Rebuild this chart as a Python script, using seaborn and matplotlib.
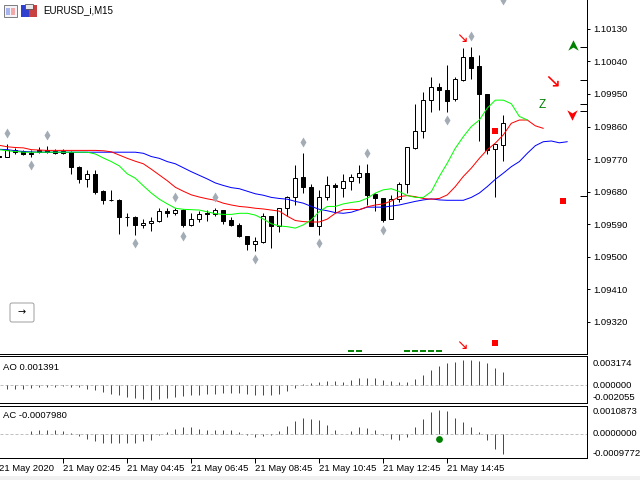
import numpy as np
import matplotlib
matplotlib.use("Agg")
import matplotlib.pyplot as plt
from matplotlib.patches import Rectangle, FancyBboxPatch
from matplotlib.path import Path
import seaborn as sns

# prices in points (1e-5), first candle is bar -1 (cut by the left edge)
candle_open = [109779, 109775, 109795, 109791, 109788, 109794, 109794, 109793, 109787, 109789,
               109749, 109715, 109728, 109682, 109657, 109657, 109610, 109610, 109587, 109593,
               109600, 109627, 109622, 109630, 109587, 109604, 109622, 109619, 109629, 109601,
               109587, 109557, 109535, 109542, 109612, 109584, 109634, 109666, 109720, 109692,
               109584, 109666, 109697, 109691, 109709, 109720, 109731, 109673, 109663, 109604,
               109659, 109702, 109802, 109847, 109933, 109969, 109961, 109936, 109990, 110052,
               110027, 109950, 109797, 109810]
candle_high = [109785, 109811, 109800, 109796, 109796, 109804, 109807, 109798, 109798, 109791,
               109751, 109740, 109740, 109685, 109685, 109659, 109621, 109612, 109604, 109611,
               109634, 109634, 109634, 109632, 109621, 109625, 109628, 109634, 109630, 109610,
               109593, 109558, 109555, 109622, 109613, 109634, 109669, 109754, 109787, 109702,
               109685, 109724, 109703, 109729, 109729, 109754, 109757, 109676, 109663, 109671,
               109707, 109803, 109923, 109956, 109997, 109981, 110031, 109998, 110078, 110079,
               110058, 109950, 109811, 109892]
candle_low = [109775, 109775, 109784, 109782, 109777, 109787, 109788, 109785, 109784, 109728,
              109705, 109693, 109674, 109646, 109654, 109563, 109586, 109561, 109580, 109572,
              109597, 109611, 109616, 109581, 109586, 109597, 109600, 109613, 109591, 109586,
              109555, 109519, 109516, 109539, 109525, 109569, 109612, 109642, 109676, 109584,
              109560, 109657, 109620, 109665, 109685, 109703, 109643, 109625, 109596, 109604,
              109650, 109676, 109799, 109827, 109901, 109906, 109901, 109931, 109987, 109992,
              109820, 109784, 109666, 109765]
candle_close = [109775, 109796, 109789, 109783, 109783, 109789, 109790, 109787, 109791, 109747,
                109714, 109728, 109680, 109656, 109656, 109609, 109609, 109587, 109593, 109600,
                109626, 109622, 109629, 109587, 109604, 109617, 109618, 109628, 109600, 109587,
                109556, 109534, 109543, 109612, 109584, 109634, 109665, 109717, 109694, 109584,
                109666, 109698, 109693, 109709, 109720, 109731, 109672, 109661, 109602, 109659,
                109702, 109803, 109847, 109933, 109969, 109960, 109932, 109991, 110052, 110023,
                109949, 109796, 109811, 109869]

ma_blue = [109797, 109796, 109793, 109791, 109790, 109789, 109789, 109789, 109789, 109789, 109789,
           109789, 109789, 109789, 109789, 109789, 109789, 109789, 109786, 109777, 109772, 109763,
           109757, 109746, 109735, 109725, 109715, 109704, 109697, 109691, 109688, 109681, 109674,
           109670, 109664, 109661, 109659, 109653, 109648, 109639, 109631, 109627, 109622, 109620,
           109623, 109630, 109637, 109637, 109637, 109640, 109643, 109648, 109653, 109657, 109660,
           109657, 109656, 109656, 109656, 109664, 109676, 109694, 109714, 109731, 109749, 109763,
           109786, 109807, 109818, 109820, 109815, 109818]
ma_red = [109808, 109804, 109802, 109801, 109796, 109795, 109794, 109794, 109794, 109794, 109794,
          109794, 109794, 109793, 109790, 109781, 109772, 109764, 109757, 109742, 109726, 109710,
          109692, 109681, 109671, 109665, 109660, 109656, 109648, 109643, 109639, 109637, 109634,
          109632, 109629, 109626, 109612, 109600, 109597, 109596, 109596, 109604, 109620, 109630,
          109631, 109630, 109638, 109643, 109646, 109654, 109666, 109669, 109666, 109661, 109659,
          109661, 109671, 109694, 109722, 109745, 109772, 109796, 109814, 109837, 109869, 109878,
          109878, 109862, 109855]
ma_green = [109796, 109793, 109791, 109789, 109789, 109789, 109789, 109789, 109789, 109789, 109789,
            109789, 109784, 109773, 109763, 109751, 109729, 109717, 109696, 109676, 109659, 109646,
            109634, 109631, 109630, 109629, 109624, 109619, 109617, 109617, 109620, 109620, 109615,
            109604, 109591, 109585, 109583, 109579, 109588, 109602, 109625, 109639, 109639, 109646,
            109650, 109653, 109662, 109676, 109685, 109688, 109680, 109669, 109664, 109664, 109680,
            109722, 109759, 109800, 109832, 109860, 109878, 109911, 109933, 109933, 109923, 109888,
            109878]

diamond_bar = [0, 5, 3, 21, 26, 22, 16, 31, 37, 45, 47, 39, 55, 58, 62]
diamond_price = [109842, 109836, 109753, 109665, 109665, 109557, 109538, 109493, 109817, 109786,
                 109573, 109537, 109878, 110111, 110210]
square_bar = [60.92, 69.42, 60.96]
square_price = [109848, 109654, 109262]
arrow_bar = [56.83, 68.08, 56.83]
arrow_price = [110105, 109986, 109256]
arrow_size = [10, 14, 10]
dash_bar = [43, 44, 50, 51, 52, 53, 54]
dash_price = [109238] * 7
object_levels = [110079, 109988, 109922, 109902, 109668]

# AO / AC histograms in 1e-6, bars 0..62
ao_values = [-348, -348, -348, -278, -139, -174, -139, -35, -174, -174, -383, -487, -696, -905, -974,
             -1218, -1322, -1392, -1531, -1427, -1322, -1183, -1114, -1009, -1009, -905, -870, -835,
             -800, -835, -940, -1009, -1009, -974, -940, -626, -313, 139, 278, 383, 452, 487, 348, 557,
             766, 766, 766, 592, 452, 348, 348, 661, 1079, 1601, 2018, 2332, 2436, 2645, 2645, 2540,
             2332, 1810, 1392]
ao_colors = "g" * 7 + "r" * 12 + "g" * 10 + "r" * 4 + "g" * 8 + "r" * 2 + "g" * 3 + "r" * 4 + "g" * 9 + "r" * 4
ac_values = [0, 0, 0, 92, 144, 144, 144, 92, 39, -92, -209, -288, -366, -366, -366, -366, -353, -288,
             -249, -52, 78, 196, 249, 262, 183, 144, 144, 131, 144, 52, -39, -131, -92, -52, 92, 288,
             497, 615, 576, 536, 340, 144, 0, 92, 249, 222, 144, -52, -209, -249, -131, 249, 576, 850,
             929, 889, 615, 458, 262, 52, -249, -602, -798]
ac_colors = "g" * 5 + "r" * 8 + "g" * 10 + "r" * 9 + "g" * 6 + "r" * 5 + "g" * 2 + "r" * 5 + "g" * 5 + "r" * 8

price_ticks = [1.10130, 1.10040, 1.09950, 1.09860, 1.09770, 1.09680, 1.09590, 1.09500, 1.09410, 1.09320]
time_bars = [7, 15, 23, 31, 39, 47, 55]
time_labels = ["21 May 02:45", "21 May 04:45", "21 May 06:45", "21 May 08:45",
               "21 May 10:45", "21 May 12:45", "21 May 14:45"]

sns.set_theme(style="white")
plt.rcParams["font.family"] = ["Liberation Sans", "DejaVu Sans"]
plt.rcParams["axes.edgecolor"] = "black"
plt.rcParams["axes.linewidth"] = 0.72

W, H = 640, 480
GREEN = "#008000"
LW = 0.72
XMIN, XMAX = -0.917, 72.46


def panel(top, bottom):
    a = fig.add_axes([0, 1 - bottom / H, 587 / W, (bottom - top) / H])
    a.set_xlim(XMIN, XMAX)
    a.spines["left"].set_visible(False)
    return a


def px_text(x, y, s, size=6.8, **kw):
    fig.text(x / W, 1 - y / H, s, fontsize=size, va="center", color="black", **kw)


def px_rect(x0, y0, x1, y1, **kw):
    fig.add_artist(Rectangle((x0 / W, 1 - y1 / H), (x1 - x0) / W, (y1 - y0) / H,
                             transform=fig.transFigure, **kw))


def histogram(a, values, colors, ymin, ymax):
    x = np.arange(len(values))
    v = np.array(values) / 1e6
    cols = [GREEN if k == "g" else "#ff0000" for k in colors]
    a.axhline(0, color="#c0c0c0", lw=LW, ls=(0, (3, 2)), zorder=1)
    a.vlines(x, 0, v, colors=cols, lw=LW, zorder=3)
    a.set_xlim(XMIN, XMAX)
    a.set_ylim(ymin, ymax)
    a.set_yticks([])


fig = plt.figure(figsize=(6.4, 4.8), dpi=100, facecolor="white")
ax = panel(0, 354.3)
ax_ao = panel(356, 402.7)
ax_ac = panel(405.5, 458)

# candles
bars = np.arange(-1, len(candle_open) - 1)
o = np.array(candle_open) / 1e5
h = np.array(candle_high) / 1e5
l = np.array(candle_low) / 1e5
c = np.array(candle_close) / 1e5
up = c >= o
ax.vlines(bars, l, h, color="black", lw=LW, zorder=2)
ax.bar(bars[~up], (o - c)[~up], bottom=c[~up], width=0.5, color="black", edgecolor="black", lw=LW, zorder=3)
ax.bar(bars[up], (c - o)[up], bottom=o[up], width=0.5, color="white", edgecolor="black", lw=LW, zorder=3)

# moving averages
for series, col in [(ma_blue, "#0000ff"), (ma_red, "#ff0000"), (ma_green, "#00ff00")]:
    sns.lineplot(x=np.arange(-1, len(series) - 1), y=np.array(series) / 1e5, color=col, linewidth=LW,
                 errorbar=None, ax=ax, zorder=4)

# signal objects
sns.scatterplot(x=diamond_bar, y=np.array(diamond_price) / 1e5, marker="d", s=26, color="#a3acb5",
                linewidth=0, ax=ax, zorder=5)
sns.scatterplot(x=square_bar, y=np.array(square_price) / 1e5, marker="s", s=20, color="#ff0000",
                linewidth=0, ax=ax, zorder=5)
ax.plot(dash_bar, np.array(dash_price) / 1e5, ls="none", marker="_", ms=4.2, mew=1.4, color=GREEN, zorder=5)
for bx, pr, sz in zip(arrow_bar, arrow_price, arrow_size):
    ax.text(bx, pr / 1e5, "\u2198", color="#ff0000", fontsize=sz, family="DejaVu Sans",
            ha="center", va="center", zorder=6)
chevron = Path([(-1, -1), (0, 1), (1, -1), (0, -0.4), (-1, -1)], closed=True)
ax.plot([70.67], [1.10086], marker=chevron, ms=7.5, color=GREEN, mew=0, zorder=6)
flip = Path([(-1, 1), (0, -1), (1, 1), (0, 0.4), (-1, 1)], closed=True)
ax.plot([70.6], [1.09892], marker=flip, ms=7.5, color="#ff0000", mew=0, zorder=6)
ax.text(66.83, 1.09920, "Z", color=GREEN, fontsize=8.5, ha="center", va="center", zorder=6)
ax.hlines(np.array(object_levels) / 1e5, 0.988, 1, color="black", lw=LW, transform=ax.get_yaxis_transform())

ax.set_xlim(XMIN, XMAX)
ax.set_ylim(1.09230, 1.10210)
ax.set_xlabel("")
ax.set_ylabel("")
ax.set_xticks([])
ax.spines["top"].set_visible(False)
ax.yaxis.tick_right()
ax.set_yticks(price_ticks)
ax.set_yticklabels([f"{t:.5f}" for t in price_ticks])
ax.tick_params(axis="y", length=2.2, width=LW, pad=2, labelsize=6.8, colors="black")

# indicators
histogram(ax_ao, ao_values, ao_colors, -0.00181, 0.00306)
histogram(ax_ac, ac_values, ac_colors, -0.000955, 0.0010987)
sns.scatterplot(x=[54], y=[-0.000209], s=24, color=GREEN, linewidth=0, ax=ax_ac, zorder=5)
ax_ac.set_xticks(time_bars)
ax_ac.set_xticklabels(time_labels, ha="left")
ax_ac.tick_params(axis="x", length=3.5, width=LW, bottom=True, pad=1, labelsize=6.8, colors="black")
ax_ao.set_xticks([])

px_text(3, 367, "AO 0.001391")
px_text(3, 415.5, "AC -0.0007980")
px_text(-1, 468.5, "21 May 2020")
for y, s in [(363, "0.003174"), (385.5, "0.000000"), (398, "-0.002055"),
             (412, "0.0010873"), (433.5, "0.0000000"), (453, "-0.0009772")]:
    px_text(593, y, s)

# header icons and title
px_rect(4, 5, 17, 17, facecolor="#f4f4f8", edgecolor="#808080", lw=LW)
px_rect(6, 8, 10, 15, facecolor="#a8b4f0", edgecolor="none")
px_rect(11, 8, 15, 15, facecolor="#f0a8a8", edgecolor="none")
px_rect(21, 5, 29, 17, facecolor="#2f3fd0", edgecolor="none")
px_rect(29, 5, 37, 17, facecolor="#c84040", edgecolor="none")
px_rect(25, 4, 33, 9, facecolor="#e8e8e8", edgecolor="#404040", lw=0.5)
px_text(43, 10, "EURUSD_i,M15", size=7)

# scroll button
fig.add_artist(FancyBboxPatch((12, 480 - 320), 20, 15, boxstyle="round,pad=2,rounding_size=2", transform=None,
                              facecolor="white", edgecolor="#a0a0a0", lw=LW))
fig.text(22 / W, 1 - 312 / H, "\u2192", fontsize=7, ha="center", va="center", family="DejaVu Sans", color="black")

# status strip
px_rect(0, 476, 640, 480, facecolor="#f0f0f0", edgecolor="none")

fig.savefig("out.png", dpi=100)
